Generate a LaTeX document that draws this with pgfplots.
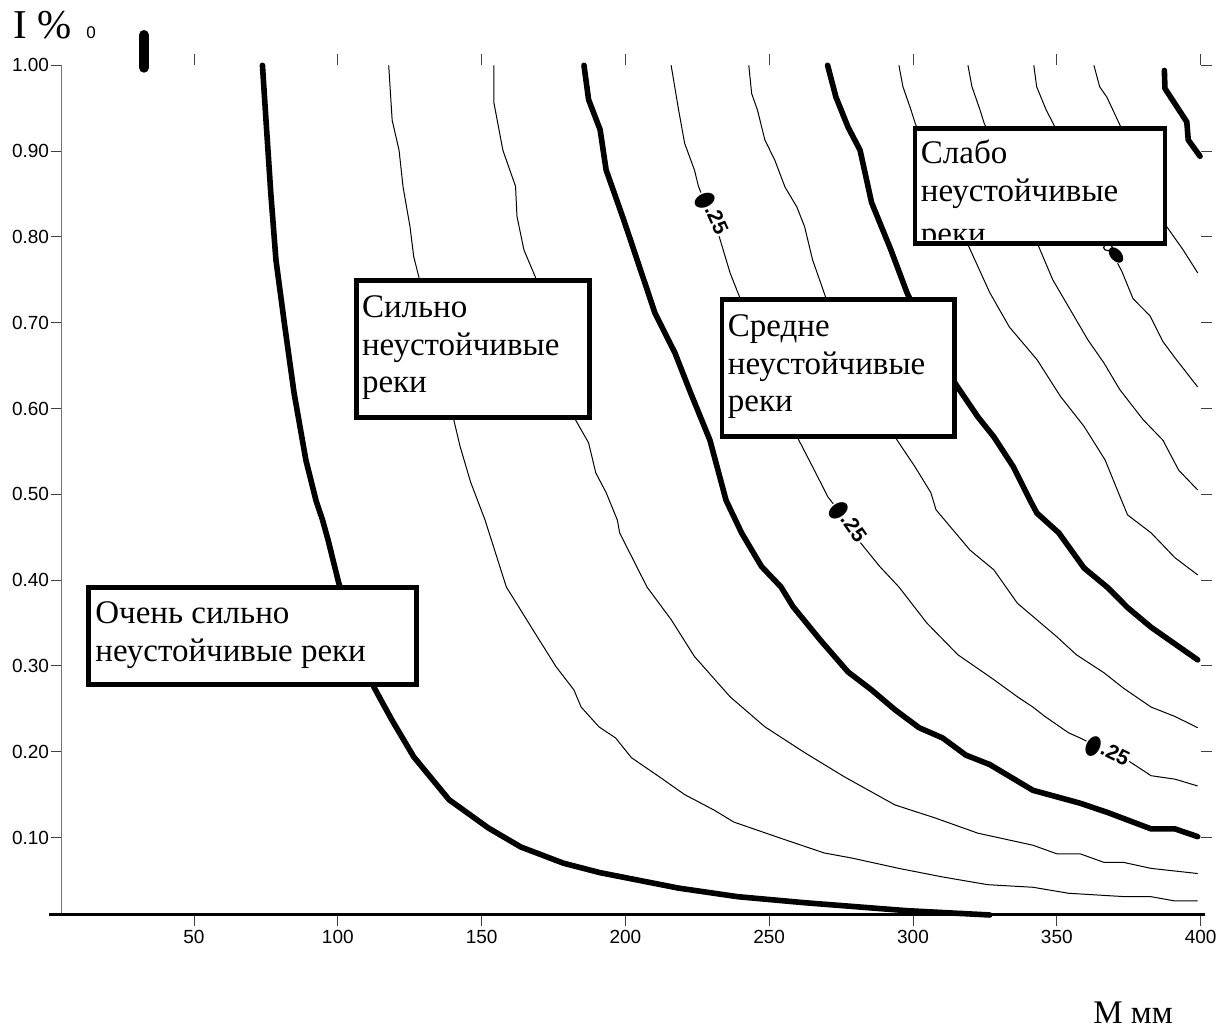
\documentclass[border=0pt]{standalone}
\usepackage{fontspec}
\setmainfont{Liberation Serif}
\newfontfamily\arial{Liberation Sans}
\newfontfamily\dejavu{DejaVu Sans}
\usepackage{pgfplots}
\pgfplotsset{compat=1.18}
\newcommand{\bfnt}{\fontsize{16.5}{18.75}\selectfont}
\newcommand{\clab}{\raisebox{-0.25ex}{\scalebox{0.85}[1.3]{\dejavu ●}}.25}
\begin{document}
\begin{tikzpicture}
\begin{axis}[
  x=1.438pt, y=429pt,
  xmin=4.1, xmax=400, ymin=0.01, ymax=1.0,
  clip=false,
  axis line style={draw=none},
  xtick={50,100,150,200,250,300,350,400},
  ytick={0.1,0.2,0.3,0.4,0.5,0.6,0.7,0.8,0.9,1.0},
  tick align=outside,
  major tick length=5.5pt,
  tick style={line width=0.5pt, black!75},
  ticklabel style={font=\arial\fontsize{9.5}{11}\selectfont},
  /pgf/number format/assume math mode=true,
  yticklabel style={/pgf/number format/fixed, /pgf/number format/fixed zerofill, /pgf/number format/precision=2, inner xsep=0.8pt},
  xticklabel style={inner ysep=2pt},
  thickc/.style={line width=2.8pt, line join=round, line cap=round, mark=none, black},
  thinc/.style={line width=0.5pt, line join=round, mark=none, black},
]
\coordinate (P00) at (axis cs:-17.455,1.07611);
\coordinate (P11) at (axis cs:405.70,-0.12436);
% axis lines
\addplot[line width=0.5pt, black!55, mark=none] coordinates {(4.1,0.01) (4.1,1.0)};
\addplot[line width=1.4pt, black, mark=none] coordinates {(-0.3,0.01) (401.5,0.01)};
% stub at top
\addplot[line width=5pt, line cap=round, mark=none] coordinates {(32.6,1.0353) (32.6,0.9972)};
% A
\addplot[thickc] coordinates {(73.8,1.000) (74.8,0.948) (76.7,0.851) (78.5,0.773) (81.6,0.695) (84.8,0.618) (88.9,0.540) (92.4,0.493) (94.7,0.470) (96.6,0.447) (100.3,0.397) (106.0,0.336) (112.6,0.275) (118.8,0.237) (126.4,0.194) (138.7,0.144) (152.4,0.111) (163.6,0.089) (178.5,0.070) (191.2,0.059) (218.5,0.041) (239.1,0.031) (262.3,0.024) (297.9,0.0147) (326.7,0.0097)};
% a1
\addplot[thinc] coordinates {(117.7,1.000) (118.9,0.936) (121.3,0.901) (122.7,0.858) (125.1,0.812) (126.4,0.777) (128.2,0.753) (134.1,0.668) (140.1,0.590) (142.5,0.556) (146.2,0.514) (151.2,0.470) (158.6,0.392) (168.6,0.338) (175.9,0.299) (182.1,0.272) (184.6,0.252) (190.8,0.229) (196.6,0.216) (202.1,0.193) (211.7,0.171) (220.6,0.150) (230.8,0.132) (237.7,0.118) (254.1,0.099) (269.1,0.082) (278.8,0.076) (295.1,0.064) (310.3,0.054) (326.0,0.045) (341.7,0.042) (354.1,0.035) (373.9,0.031) (382.8,0.031) (391.1,0.026) (399.0,0.026)};
% a2
\addplot[thinc] coordinates {(154.3,1.000) (154.3,0.956) (157.4,0.901) (161.8,0.859) (162.3,0.824) (164.7,0.785) (168.6,0.754) (175.5,0.668) (182.1,0.590) (187.2,0.560) (189.7,0.525) (193.3,0.502) (197.2,0.470) (198.0,0.455) (207.5,0.392) (215.9,0.354) (224.0,0.311) (236.4,0.264) (248.5,0.229) (262.3,0.199) (276.0,0.171) (293.7,0.138) (307.5,0.123) (322.6,0.105) (341.7,0.091) (350.0,0.081) (358.1,0.081) (366.4,0.071) (373.2,0.071) (382.8,0.064) (399.0,0.058)};
% B
\addplot[thickc] coordinates {(185.6,1.000) (187.2,0.960) (191.2,0.925) (193.3,0.878) (199.4,0.820) (204.9,0.765) (210.3,0.711) (217.2,0.665) (222.7,0.618) (229.4,0.563) (235.0,0.493) (240.4,0.455) (247.3,0.416) (254.1,0.392) (258.3,0.369) (267.8,0.330) (277.4,0.293) (285.6,0.272) (293.7,0.249) (302.1,0.228) (310.3,0.216) (318.4,0.196) (326.7,0.185) (341.7,0.155) (358.1,0.140) (367.8,0.129) (382.8,0.110) (391.1,0.110) (399.0,0.101)};
% b1
\addplot[thinc] coordinates {(215.9,1.000) (218.5,0.948) (220.6,0.909) (224.0,0.878) (225.4,0.859) (229.4,0.825) (232.2,0.805) (236.4,0.758) (239.1,0.735) (249.2,0.651) (259.7,0.567) (265.1,0.532) (270.4,0.497) (277.1,0.468) (280.9,0.447) (288.4,0.416) (295.1,0.392) (304.8,0.350) (315.6,0.313) (328.1,0.284) (336.3,0.264) (341.7,0.252) (345.9,0.241) (354.1,0.222) (358.1,0.216) (366.7,0.202) (374.6,0.190) (382.8,0.172) (391.1,0.168) (399.0,0.160)};
% b2
\addplot[thinc] coordinates {(242.9,1.000) (243.9,0.967) (245.9,0.948) (248.5,0.913) (252.0,0.889) (255.5,0.858) (259.6,0.835) (262.3,0.812) (265.1,0.773) (267.1,0.754) (269.7,0.729) (281.6,0.648) (293.7,0.567) (300.7,0.532) (306.2,0.502) (308.0,0.482) (319.8,0.435) (328.1,0.412) (336.3,0.373) (350.0,0.334) (356.8,0.313) (366.4,0.292) (373.2,0.274) (382.8,0.252) (391.1,0.241) (399.0,0.228)};
% C
\addplot[thickc] coordinates {(270.3,1.000) (273.2,0.963) (277.4,0.928) (281.6,0.901) (285.6,0.840) (292.3,0.785) (297.9,0.735) (305.9,0.680) (314.9,0.628) (322.6,0.590) (328.1,0.567) (334.9,0.532) (340.7,0.493) (343.1,0.478) (350.7,0.455) (359.5,0.414) (367.8,0.391) (374.6,0.368) (382.8,0.345) (399.0,0.307)};
% c1
\addplot[thinc] coordinates {(295.1,1.000) (296.5,0.975) (299.3,0.948) (300.7,0.933) (309.4,0.860) (319.1,0.791) (326.7,0.735) (333.5,0.695) (343.1,0.657) (351.3,0.614) (359.5,0.579) (366.8,0.540) (372.5,0.493) (374.6,0.476) (382.8,0.455) (391.1,0.426) (399.0,0.406)};
% c2
\addplot[thinc] coordinates {(319.1,1.000) (320.5,0.975) (323.3,0.948) (324.7,0.933) (334.4,0.860) (343.8,0.788) (348.6,0.750) (355.4,0.711) (360.8,0.680) (366.4,0.653) (371.9,0.622) (380.0,0.587) (386.9,0.563) (392.4,0.528) (399.0,0.505)};
% c3
\addplot[thinc] coordinates {(342.0,1.000) (343.0,0.975) (346.3,0.948) (348.6,0.933) (359.8,0.855) (367.8,0.790) (372.6,0.760) (376.5,0.728) (382.4,0.708) (386.9,0.678) (391.1,0.659) (399.0,0.625)};
% c4
\addplot[thinc] coordinates {(362.9,1.000) (364.9,0.975) (367.4,0.963) (372.0,0.930) (380.7,0.866) (388.2,0.812) (393.9,0.785) (399.0,0.758)};
% D
\addplot[thickc] coordinates {(387.4,0.994) (387.6,0.973) (395.2,0.934) (395.7,0.913) (399.8,0.894)};
\end{axis}
\begin{scope}[shift={(P00)}, x=0.5pt, y=-0.5pt]
  % contour labels
  \tikzset{clabel/.style={fill=white, inner sep=0.6pt, font=\arial\bfseries\fontsize{10.5}{12}\selectfont}}
  \node[clabel, rotate=-66] at (711,214) {\clab};
  \node[clabel, rotate=-55] at (847,523) {\clab};
  \node[clabel, rotate=-26] at (1107,753) {\clab};
  % partly hidden label under the upper-right box: only its blob shows
  \fill[white, rotate around={-49:(1112,252)}] (1100,244) rectangle (1124,260);
  \fill[rotate around={-49:(1116,255)}] (1116,255) ellipse (4.5pt and 2.8pt);
  \draw[line width=0.6pt] (1108,247.5) ellipse (2.2pt and 1.6pt);
  % boxes
  \tikzset{bx/.style={line width=2.4pt, draw=black, fill=white}, bt/.style={anchor=base west, inner sep=0pt, font=\bfnt}}
  % box 1
  \draw[bx] (88.6,587.3) rectangle (416.4,684.3);
  \node[bt] at (95,624) {Очень сильно};
  \node[bt] at (95,661.7) {неустойчивые реки};
  % box 2
  \draw[bx] (356.4,280.7) rectangle (589.6,417.3);
  \node[bt] at (361.6,318) {Сильно};
  \node[bt] at (361.6,355.5) {неустойчивые};
  \node[bt] at (361.6,393) {реки};
  % box 3
  \draw[bx] (722,299.3) rectangle (954.3,436.7);
  \node[bt] at (727.5,336.7) {Средне};
  \node[bt] at (727.5,375) {неустойчивые};
  \node[bt] at (727.5,411.7) {реки};
  % box 4 (text clipped)
  \fill[white] (915,128.3) rectangle (1165,243.3);
  \begin{scope}
    \clip (915,128.3) rectangle (1165,240);
    \node[bt] at (920.5,163.3) {Слабо};
    \node[bt] at (920.5,201.7) {неустойчивые};
    \node[bt] at (920.5,245) {реки};
  \end{scope}
  \draw[line width=2.4pt] (915,128.3) rectangle (1165,243.3);
  % axis titles
  \node[anchor=base west, inner sep=0pt, font=\fontsize{20.5}{24}\selectfont] at (13,38.3) {I \%};
  \node[anchor=base west, inner sep=0pt, font=\arial\fontsize{8.5}{10}\selectfont] at (86,38.3) {0};
  \node[anchor=base west, inner sep=0pt, font=\fontsize{16.5}{19}\selectfont] at (1093,1023.5) {M мм};
\end{scope}
\pgfresetboundingbox
\path[use as bounding box] (P00) rectangle (P11);
\end{tikzpicture}
\end{document}
